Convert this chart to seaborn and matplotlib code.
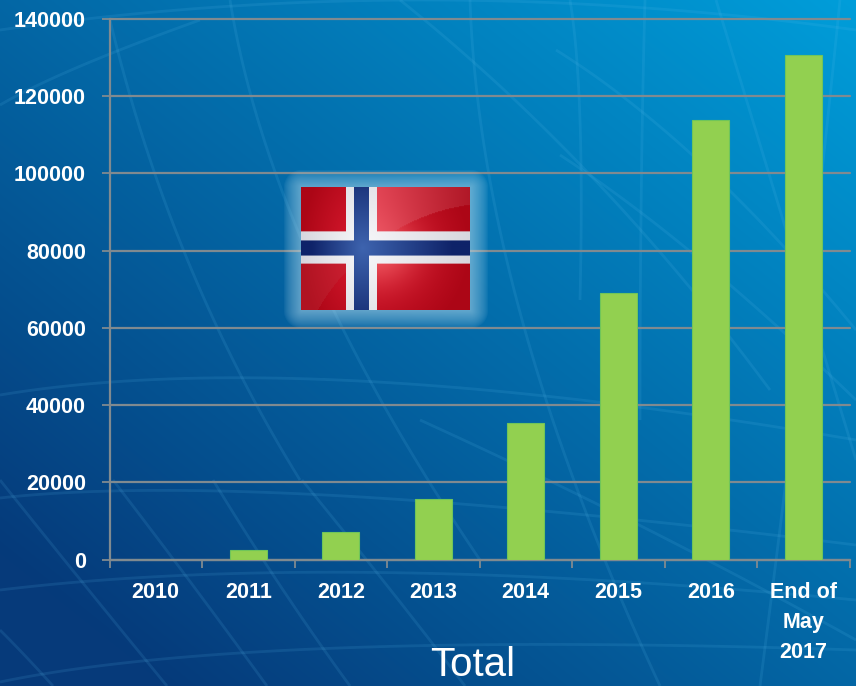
import numpy as np
import pandas as pd
import matplotlib
matplotlib.use("Agg")
import matplotlib.pyplot as plt
import seaborn as sns

categories = ["2010", "2011", "2012", "2013", "2014", "2015", "2016", "End of\nMay\n2017"]
values = [0, 2400, 7100, 15600, 35400, 69000, 113800, 130700]
y_ticks = [0, 20000, 40000, 60000, 80000, 100000, 120000, 140000]
title_text = "Total"

W, H = 856, 686
sns.set_theme(style="white")
plt.rcParams["font.family"] = ["Liberation Sans", "DejaVu Sans"]
fig = plt.figure(figsize=(W / 100, H / 100), dpi=100)

def px_axes(x0, y0, x1, y1, z):
    return fig.add_axes([x0 / W, 1 - y1 / H, (x1 - x0) / W, (y1 - y0) / H], zorder=z)

# background
bg = px_axes(0, 0, W, H, 0)
bg.set_xlim(0, W); bg.set_ylim(H, 0); bg.axis("off")
yy, xx = np.mgrid[0:H, 0:W]
t = np.clip((xx / W * 0.62 + (1 - yy / H) * 0.62 - 0.12) / 1.12, 0, 1)[..., None]
c0 = np.array([6, 58, 122]) / 255
c1 = np.array([0, 158, 218]) / 255
bg.imshow(c0 + (c1 - c0) * t, extent=(0, W, H, 0), aspect="auto", zorder=0)

def curve(p0, p1, p2):
    s = np.linspace(0, 1, 80)
    x = (1 - s) ** 2 * p0[0] + 2 * s * (1 - s) * p1[0] + s ** 2 * p2[0]
    y = (1 - s) ** 2 * p0[1] + 2 * s * (1 - s) * p1[1] + s ** 2 * p2[1]
    bg.plot(x, y, color="#5fc0f0", alpha=0.13, lw=2.0, solid_capstyle="butt", zorder=1)

for p in [
    ((0, 498), (250, 470), (856, 545)), ((0, 590), (330, 550), (856, 600)),
    ((0, 682), (250, 630), (856, 650)), ((0, 395), (300, 345), (856, 440)),
    ((0, 105), (60, 70), (200, 20)), ((0, 30), (420, -30), (856, 30)),
    ((113, 480), (190, 580), (267, 686)), ((213, 480), (280, 590), (350, 686)),
    ((302, 480), (400, 600), (465, 686)), ((0, 480), (80, 580), (167, 686)),
    ((0, 630), (25, 655), (53, 686)), ((110, 20), (170, 270), (300, 480)),
    ((230, 0), (270, 250), (480, 560)), ((470, 0), (480, 300), (660, 686)),
    ((570, 0), (585, 90), (580, 300)), ((645, 0), (640, 180), (640, 420)),
    ((716, 0), (780, 210), (856, 460)), ((840, 0), (810, 300), (760, 686)),
    ((556, 50), (700, 140), (856, 330)), ((400, 0), (600, 160), (770, 390)),
    ((560, 155), (690, 240), (856, 400)), ((420, 420), (640, 520), (856, 640)),
]:
    curve(*p)

# glow behind flag
gx0, gy0, gx1, gy1 = 301, 187, 470, 310
dx = np.maximum(np.maximum(gx0 - xx, xx - gx1), 0)
dy = np.maximum(np.maximum(gy0 - yy, yy - gy1), 0)
d = np.hypot(dx, dy)
alpha = np.clip(1 - d / 18, 0, 1) ** 0.7 * 0.5
glow = np.zeros((H, W, 4))
glow[..., :3] = np.array([190, 225, 240]) / 255
glow[..., 3] = alpha

# chart
ax = px_axes(109.5, 19, 849.5, 559.5, 1)
ax.patch.set_alpha(0)
df = pd.DataFrame({"category": categories, "value": values})
sns.barplot(data=df, x="category", y="value", ax=ax, color="#92d050", saturation=1,
            width=0.4, edgecolor="#6fc55a", linewidth=0.8, zorder=3)
ax.set_xlim(-0.5, 7.5)
ax.set_ylim(0, 140000)
ax.set_xlabel(""); ax.set_ylabel("")
ax.set_yticks(y_ticks)
ax.set_yticklabels([str(v) for v in y_ticks], color="white", fontweight="bold", fontsize=15.5)
ax.set_xticks(range(len(categories)))
ax.set_xticklabels(categories, color="white", fontweight="bold", fontsize=15.5, linespacing=1.57)
ax.set_xticks(np.arange(-0.5, 8, 1), minor=True)
grey = "#808a90"
ax.tick_params(axis="x", which="major", length=0, pad=16)
ax.tick_params(axis="x", which="minor", length=6, width=1.3, color=grey, bottom=True)
ax.tick_params(axis="y", length=6, width=1.3, color=grey, left=True, pad=11)
ax.grid(axis="y", color=grey, lw=1.6, zorder=1)
for line in ax.get_ygridlines():
    line.set_clip_on(False)
ax.set_axisbelow(True)
for name, sp in ax.spines.items():
    sp.set_visible(name in ("left", "bottom"))
    sp.set_color(grey); sp.set_linewidth(1.6)

fig.text(473 / W, 1 - 665 / H, title_text, color="white", fontsize=29,
         ha="center", va="center", zorder=5)

# glow and flag
gl = px_axes(0, 0, W, H, 2)
gl.patch.set_alpha(0); gl.axis("off")
gl.imshow(glow, extent=(0, W, H, 0), aspect="auto")
gl.set_xlim(0, W); gl.set_ylim(H, 0)
fl = px_axes(gx0, gy0, gx1, gy1, 3)
fl.axis("off")
fh, fw = gy1 - gy0, gx1 - gx0
fy, fx = np.mgrid[0:fh, 0:fw]
fx = fx + gx0; fy = fy + gy0
white_v = (fx >= 346) & (fx < 377); white_h = (fy >= 232) & (fy < 264)
blue_v = (fx >= 354) & (fx < 369); blue_h = (fy >= 241) & (fy < 256)
is_blue = blue_v | blue_h
is_white = (white_v | white_h) & ~is_blue
is_red = ~(white_v | white_h)
img = np.zeros((fh, fw, 3))
ex = np.clip(np.abs(fx - 362) / np.where(fx > 362, 108, 61), 0, 1)
ey = np.clip(np.abs(fy - 248) / 62, 0, 1)
e = np.clip(np.hypot(ex, ey * 0.6), 0, 1)[..., None]
bright_r = np.array([222, 28, 50]) / 255
dark_r = np.array([172, 6, 22]) / 255
base_red = bright_r + (dark_r - bright_r) * e
bright_b = np.array([62, 100, 175]) / 255
dark_b = np.array([15, 35, 105]) / 255
base_blue = bright_b + (dark_b - bright_b) * np.clip(e * 1.2, 0, 1)
bright_w = np.array([248, 248, 250]) / 255
dark_w = np.array([215, 215, 222]) / 255
base_white = bright_w + (dark_w - bright_w) * e
img[is_red] = base_red[is_red]
img[is_blue] = base_blue[is_blue]
img[is_white] = base_white[is_white]
# pink light beside the cross centre
spot = np.exp(-(((fx - 377) / 38) ** 2 + ((fy - 248) / 34) ** 2))[..., None]
pink = np.array([245, 105, 110]) / 255
mask = is_red & (fx >= 377)
img[mask] = (img * (1 - spot * 0.8) + pink * spot * 0.8)[mask]
# gloss over the upper right and lower left quadrants
top = (np.hypot(fx - 495, fy - 400) > 196.5) & (fx >= 377) & (fy < 232)
fade = np.clip((fx - 377) / 93, 0, 1)[..., None]
tint = np.array([235, 85, 100]) / 255 * (1 - fade) + np.array([178, 30, 45]) / 255 * fade
img[top] = img[top] * 0.25 + tint[top] * 0.75
bottom = (np.hypot(fx - 480, fy - 400) > 186) & (fx < 346) & (fy >= 264)
img[bottom] = img[bottom] * 0.75 + np.array([190, 60, 70]) / 255 * 0.25
fl.imshow(np.clip(img, 0, 1), extent=(gx0, gx1, gy1, gy0), aspect="auto", interpolation="bilinear")

fig.savefig("out.png", dpi=100)
